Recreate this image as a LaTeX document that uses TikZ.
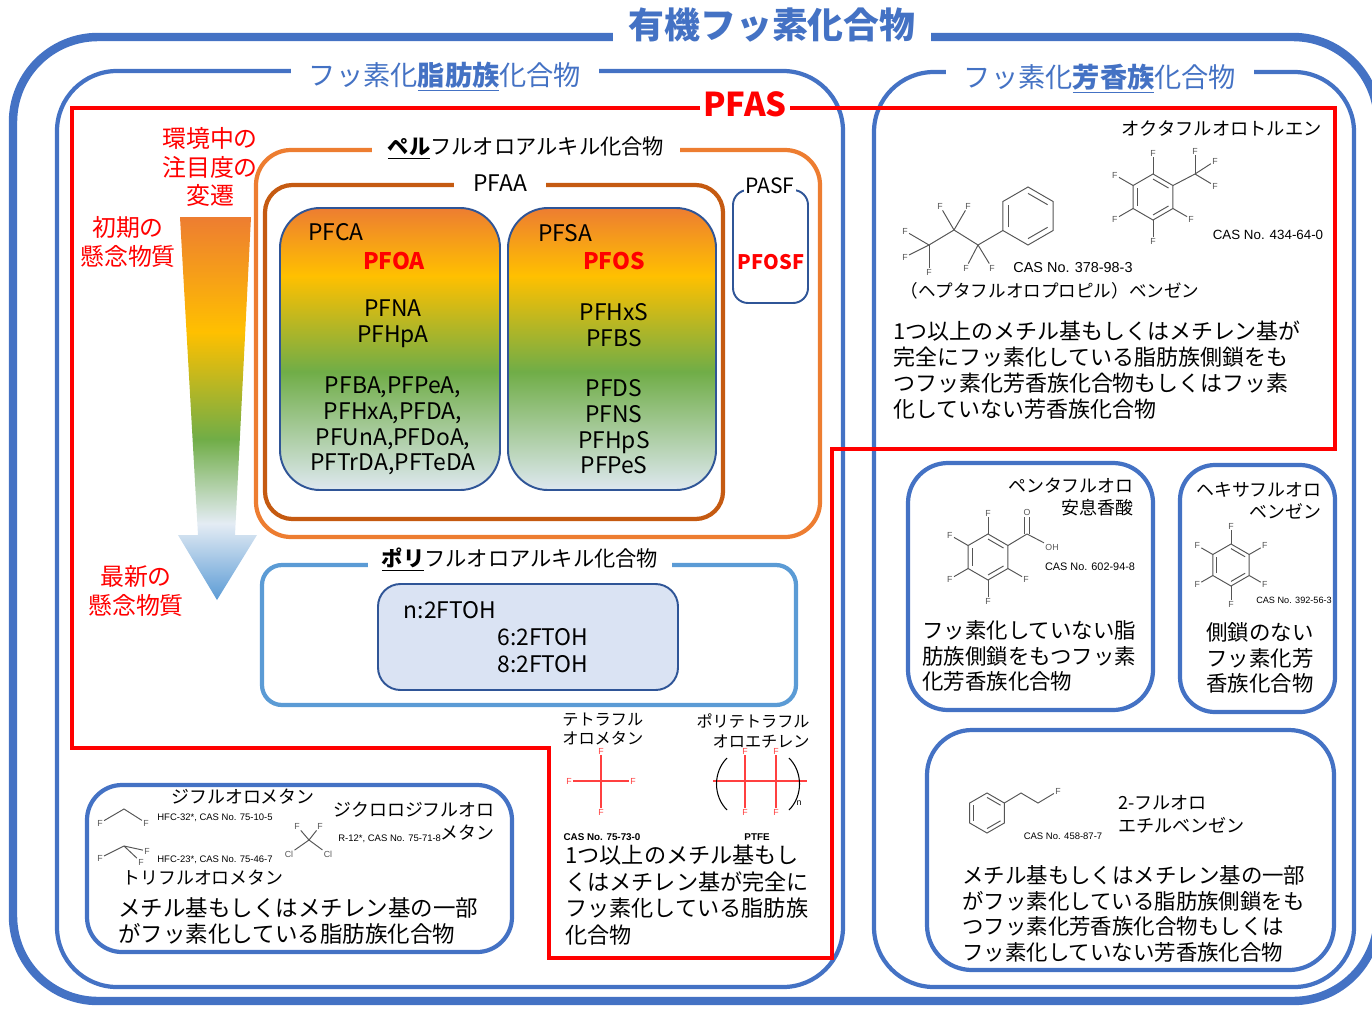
\documentclass[tikz,border=0pt]{standalone}
\usepackage{fontspec}
\setmainfont{Noto Sans CJK JP}
\newfontfamily\casfont{Liberation Sans}
\usetikzlibrary{positioning,fit,calc}

\definecolor{orgBlue}{HTML}{4472C4}
\definecolor{pfasRed}{HTML}{FF0000}
\definecolor{ptfeRed}{HTML}{FF4040}
\definecolor{perOrange}{HTML}{ED7D31}
\definecolor{pfaaBrown}{HTML}{C55A11}
\definecolor{polyBlue}{HTML}{5B9BD5}
\definecolor{deepBlue}{HTML}{2F5597}
\definecolor{ftohFill}{HTML}{DAE3F3}
\definecolor{gOrange}{HTML}{ED7D31}
\definecolor{gYellow}{HTML}{FFC000}
\definecolor{gGreen}{HTML}{70AD47}
\definecolor{gPale}{HTML}{E4ECF4}
\definecolor{gSky}{HTML}{5B9BD5}
\definecolor{gMist}{HTML}{DEE8F0}
\definecolor{molGray}{HTML}{555555}

% colour run of the concern arrow and of the acid boxes
\pgfdeclareverticalshading{concernarrow}{100bp}{color(0bp)=(gSky); color(25bp)=(gSky); color(35bp)=(gPale); color(46bp)=(gGreen); color(60bp)=(gYellow); color(75bp)=(gOrange); color(100bp)=(gOrange)}
\pgfdeclareverticalshading{concernbox}{100bp}{color(0bp)=(gMist); color(25bp)=(gMist); color(46bp)=(gGreen); color(63bp)=(gYellow); color(75bp)=(gOrange); color(100bp)=(gOrange)}

% benzene ring: name, centre, radius
\newcommand\benzene[3]{%
  \coordinate (#1) at (#2);
  \foreach \k/\a in {1/270,2/330,3/30,4/90,5/150,6/210}
    \coordinate (#1-\k) at ($(#1)+(\a:#3)$);
  \draw[mol] (#1-1) -- (#1-2) -- (#1-3) -- (#1-4) -- (#1-5) -- (#1-6) -- cycle;
  \foreach \k/\m in {1/2,3/4,5/6}
    \draw[mol] ($(#1)!0.78!(#1-\k)$) -- ($(#1)!0.78!(#1-\m)$);
}

\tikzset{
  outerbox/.style={draw=orgBlue, line width=4.8pt, rounded corners=1.7cm, inner sep=0pt},
  groupbox/.style={draw=orgBlue, line width=2.4pt, rounded corners=1.2cm, inner sep=0pt},
  subbox/.style={draw=orgBlue, line width=2.4pt, inner sep=0pt},
  gradbox/.style={draw=deepBlue, line width=1.1pt, rounded corners=0.8cm, inner sep=0pt, shade, shading=concernbox},
  pfasline/.style={draw=pfasRed, line width=2.5pt},
  boxtitle/.style={fill=white, inner ysep=3pt},
  para/.style={align=left, anchor=west, inner sep=0pt, font=\fontsize{12.5}{14.9}\selectfont},
  molname/.style={inner sep=0pt, font=\fontsize{10.2}{12.8}\selectfont},
  cas/.style={inner sep=0pt, font=\casfont\fontsize{6}{7}\selectfont},
  flab/.style={inner sep=0.6pt, text=molGray, font=\casfont\fontsize{5}{6}\selectfont},
  redF/.style={flab, text=ptfeRed},
  mol/.style={draw=molGray, line width=0.55pt},
  ptfe/.style={draw=ptfeRed, line width=0.8pt},
  redtext/.style={text=pfasRed, align=center, inner sep=0pt, font=\fontsize{13.6}{16.4}\selectfont},
  acid/.style={align=center, inner sep=0pt, font=\fontsize{13}{14.6}\selectfont},
  keyacid/.style={text=pfasRed, inner sep=0pt, font=\bfseries\fontsize{13}{14.6}\selectfont},
}

\begin{document}
\begin{tikzpicture}[x=0.02cm, y=-0.02cm]
\useasboundingbox (0,0) rectangle (1372,1011);

% frames
\node[outerbox, fit={(13,37) (1378,1001)}] (organo) {};
\node[groupbox, fit={(57,71) (843,987)}] (aliph) {};
\node[groupbox, fit={(874,72) (1354,987)}] (arom) {};

% PFAS boundary
\draw[pfasline] (72,108) -- (1335,108) -- (1335,449) -- (832,449) -- (832,958)
  -- (549,958) -- (549,748) -- (72,748) -- cycle;

% concern arrow
\shade[shading=concernarrow] (180,217) -- (251,217) -- (235,535) -- (257,535)
  -- (217,600) -- (178,535) -- (198,535) -- cycle;
\node[redtext] (shift) at (210,167) {環境中の\\注目度の\\変遷};
\node[redtext] (early) at (128,242) {初期の\\懸念物質};
\node[redtext] (latest) at (136,591) {最新の\\懸念物質};

% perfluoroalkyl group
\node[fit={(256,150) (820,537)}, draw=perOrange, line width=2.4pt, rounded corners=0.7cm, inner sep=0pt] (perfluoro) {};
\node[fit={(265,185) (723,519)}, draw=pfaaBrown, line width=2.4pt, rounded corners=0.55cm, inner sep=0pt] (pfaa) {};
\node[gradbox, fit={(280,208) (500,490)}] (pfca) {};
\node[gradbox, fit={(508,208) (716,490)}] (pfsa) {};
\node[fit={(733,190) (808,303)}, draw=deepBlue, line width=1.1pt, rounded corners=0.3cm, inner sep=0pt] (pasf) {};

\node[acid, anchor=west] (pfcaName) at (308,232) {PFCA};
\node[keyacid] (pfoa) at (394,261) {PFOA};
\node[acid] (pfcaMid) at (393,324) {PFNA\\PFHpA};
\node[acid] (pfcaLow) at (393,426) {PFBA,PFPeA,\\PFHxA,PFDA,\\PFUnA,PFDoA,\\PFTrDA,PFTeDA};

\node[acid, anchor=west] (pfsaName) at (538,233) {PFSA};
\node[keyacid] (pfos) at (614,261) {PFOS};
\node[acid] (pfsaMid) at (614,325) {PFHxS\\PFBS};
\node[acid] (pfsaLow) at (614,427) {PFDS\\PFNS\\PFHpS\\PFPeS};

\node[keyacid, font=\bfseries\fontsize{11.4}{13}\selectfont] (pfosf) at (771,262) {PFOSF};

% polyfluoroalkyl group
\node[fit={(262,565) (796,705)}, draw=polyBlue, line width=2.4pt, rounded corners=0.4cm, inner sep=0pt] (poly) {};
\node[fit={(378,584) (678,690)}, draw=deepBlue, fill=ftohFill, line width=1.1pt, rounded corners=0.45cm, inner sep=0pt] (ftoh) {};
\node[acid] (ftohN) at (450,610) {n:2FTOH};
\node[acid] (ftoh6) at (543,637) {6:2FTOH};
\node[acid] (ftoh8) at (543,664) {8:2FTOH};

% fully fluorinated aliphatics
\node[molname, align=left, anchor=west, font=\fontsize{9.2}{11}\selectfont] (tetraName) at (562,729) {テトラフル\\オロメタン};
\node[molname, align=right, anchor=east, font=\fontsize{9.2}{11.3}\selectfont] (ptfeName) at (810,731) {ポリテトラフル\\オロエチレン};
\node[redF] (tmF1) at (601,751) {F};
\node[redF] (tmF2) at (601,812) {F};
\node[redF] (tmF3) at (569,781) {F};
\node[redF] (tmF4) at (633,781) {F};
\draw[ptfe] (tmF1) -- (tmF2);
\draw[ptfe] (tmF3) -- (tmF4);
\node[redF] (ptF1) at (745,751) {F};
\node[redF] (ptF2) at (776,751) {F};
\node[redF] (ptF3) at (745,812) {F};
\node[redF] (ptF4) at (776,812) {F};
\coordinate (ptL) at (713,781);
\coordinate (ptR) at (807,781);
\draw[ptfe] (ptL) -- (ptR);
\draw[ptfe] (ptF1) -- (ptF3);
\draw[ptfe] (ptF2) -- (ptF4);
\draw[black, line width=0.6pt] (727,758) .. controls (713,772) and (713,796) .. (727,810);
\draw[black, line width=0.6pt] (789,758) .. controls (803,772) and (803,796) .. (789,810);
\node[flab, text=black] (ptN) at (799,803) {n};
\node[cas, font=\casfont\bfseries\fontsize{5.6}{6}\selectfont] (tmCas) at (602,837) {CAS No. 75-73-0};
\node[cas, font=\casfont\bfseries\fontsize{5.6}{6}\selectfont] (ptCas) at (757,837) {PTFE};
\node[para, font=\fontsize{12.6}{15.1}\selectfont] (fullText) at (565,895) {1つ以上のメチル基もし\\くはメチレン基が完全に\\フッ素化している脂肪族\\化合物};

% partly fluorinated aliphatics
\node[subbox, rounded corners=0.7cm, fit={(87,785) (512,952)}] (partial) {};
\node[molname] (dfName) at (243,797) {ジフルオロメタン};
\node[flab] (dfF1) at (100,823) {F};
\coordinate (dfC) at (124,809);
\node[flab] (dfF2) at (146,823) {F};
\draw[mol] (dfF1) -- (dfC) -- (dfF2);
\node[cas, anchor=west, font=\casfont\fontsize{5.4}{6}\selectfont] (dfCas) at (157,818) {HFC-32*, CAS No. 75-10-5};
\node[molname, align=right, anchor=east] (ccName) at (495,821) {ジクロロジフルオロ\\メタン};
\coordinate (ccC) at (309,840);
\node[flab] (ccF1) at (297,826) {F};
\node[flab] (ccF2) at (320,826) {F};
\node[flab] (ccCl1) at (289,854) {Cl};
\node[flab] (ccCl2) at (328,854) {Cl};
\foreach \n in {ccF1,ccF2,ccCl1,ccCl2} \draw[mol] (ccC) -- (\n);
\node[cas, anchor=west, font=\casfont\fontsize{5.4}{6}\selectfont] (ccCas) at (338,839) {R-12*, CAS No. 75-71-8};
\node[flab] (tfF1) at (100,858) {F};
\coordinate (tfC) at (124,846);
\node[flab] (tfF2) at (147,851) {F};
\node[flab] (tfF3) at (141,862) {F};
\draw[mol] (tfF1) -- (tfC) -- (tfF2);
\draw[mol] (tfC) -- (tfF3);
\node[cas, anchor=west, font=\casfont\fontsize{5.4}{6}\selectfont] (tfCas) at (157,860) {HFC-23*, CAS No. 75-46-7};
\node[molname] (tfName) at (203,878) {トリフルオロメタン};
\node[para, font=\fontsize{12.8}{15.3}\selectfont] (partialText) at (118,921) {メチル基もしくはメチレン基の一部\\がフッ素化している脂肪族化合物};

% aromatics inside PFAS
\node[molname, anchor=east, font=\fontsize{10.4}{12.8}\selectfont] (ocName) at (1322,128) {オクタフルオロトルエン};
\benzene{oc}{1153,197}{23}
\foreach \k/\a in {1/270,3/30,4/90,5/150,6/210} {
  \node[flab] (ocF\k) at ($(oc)+(\a:44)$) {F};
  \draw[mol] (oc-\k) -- (ocF\k);
}
\coordinate (ocC) at (1195,174);
\draw[mol] (oc-2) -- (ocC);
\node[flab] (ocF7) at (1195,151) {F};
\node[flab] (ocF8) at (1215,161) {F};
\node[flab] (ocF9) at (1215,186) {F};
\foreach \n in {ocF7,ocF8,ocF9} \draw[mol] (ocC) -- (\n);
\node[cas, font=\casfont\fontsize{7.6}{8}\selectfont] (ocCas) at (1268,235) {CAS No. 434-64-0};

\benzene{hp}{1028,216}{29}
\coordinate (hpC1) at (978,245);
\coordinate (hpC2) at (954,230);
\coordinate (hpC3) at (929,245);
\draw[mol] (hp-5) -- (hpC1) -- (hpC2) -- (hpC3);
\foreach \n/\c/\p in {1/hpC1/{966,268}, 2/hpC1/{992,268}, 3/hpC2/{940,206}, 4/hpC2/{968,206},
    5/hpC3/{905,231}, 6/hpC3/{905,257}, 7/hpC3/{929,272}} {
  \node[flab] (hpF\n) at (\p) {F};
  \draw[mol] (\c) -- (hpF\n);
}
\node[cas, font=\casfont\fontsize{8.2}{9}\selectfont] (hpCas) at (1073,268) {CAS No. 378-98-3};
\node[molname, font=\fontsize{10}{12}\selectfont] (hpName) at (1050,291) {（ヘプタフルオロプロピル）ベンゼン};
\node[para] (sideText) at (893,370) {1つ以上のメチル基もしくはメチレン基が\\完全にフッ素化している脂肪族側鎖をも\\つフッ素化芳香族化合物もしくはフッ素\\化していない芳香族化合物};

% pentafluorobenzoic acid
\node[subbox, rounded corners=0.8cm, fit={(908,463) (1153,710)}] (pentabox) {};
\node[molname, align=right, anchor=east, font=\fontsize{10.2}{13}\selectfont] (pbName) at (1134,497) {ペンタフルオロ\\安息香酸};
\benzene{pb}{988,557}{23}
\foreach \k/\a in {1/270,3/30,4/90,5/150,6/210} {
  \node[flab] (pbF\k) at ($(pb)+(\a:44)$) {F};
  \draw[mol] (pb-\k) -- (pbF\k);
}
\coordinate (pbC) at (1027,534);
\draw[mol] (pb-2) -- (pbC);
\node[flab] (pbO) at (1027,512) {O};
\node[flab] (pbOH) at (1052,547) {OH};
\draw[mol] (pbC) -- (pbOH);
\draw[mol] ([xshift=-1.2pt]pbC) -- ([xshift=-1.2pt]pbO.south);
\draw[mol] ([xshift=1.2pt]pbC) -- ([xshift=1.2pt]pbO.south);
\node[cas, font=\casfont\fontsize{6.2}{7}\selectfont] (pbCas) at (1090,567) {CAS No. 602-94-8};
\node[para, font=\fontsize{12.2}{14.7}\selectfont] (pbText) at (922,656) {フッ素化していない脂\\肪族側鎖をもつフッ素\\化芳香族化合物};

% hexafluorobenzene
\node[subbox, rounded corners=0.7cm, fit={(1180,465) (1335,712)}] (hexabox) {};
\node[molname, align=right, anchor=east, font=\fontsize{10.2}{12.5}\selectfont] (hxName) at (1322,501) {ヘキサフルオロ\\ベンゼン};
\benzene{hx}{1231,565}{21}
\foreach \k/\a in {1/270,2/330,3/30,4/90,5/150,6/210} {
  \node[flab] (hxF\k) at ($(hx)+(\a:39)$) {F};
  \draw[mol] (hx-\k) -- (hxF\k);
}
\node[cas, font=\casfont\fontsize{5.2}{6}\selectfont] (hxCas) at (1294,600) {CAS No. 392-56-3};
\node[acid, font=\fontsize{12.2}{14.7}\selectfont] (hxText) at (1260,658) {側鎖のない\\フッ素化芳\\香族化合物};

% 2-fluoroethylbenzene
\node[subbox, rounded corners=0.9cm, fit={(927,730) (1334,970)}] (fluoroethyl) {};
\benzene{fe}{987,813}{20}
\coordinate (feC1) at (1021,793);
\coordinate (feC2) at (1038,803);
\node[flab] (feF) at (1058,791) {F};
\draw[mol] (fe-2) -- (feC1) -- (feC2) -- (feF);
\node[cas, font=\casfont\fontsize{5.4}{6}\selectfont] (feCas) at (1063,836) {CAS No. 458-87-7};
\node[molname, align=left, anchor=west, font=\fontsize{10.3}{13}\selectfont] (feName) at (1118,814) {2-フルオロ\\エチルベンゼン};
\node[para, font=\fontsize{12.2}{14.6}\selectfont] (feText) at (962,914) {メチル基もしくはメチレン基の一部\\がフッ素化している脂肪族側鎖をも\\つフッ素化芳香族化合物もしくは\\フッ素化していない芳香族化合物};

% titles
\node[boxtitle, text=orgBlue, font=\bfseries\fontsize{20.4}{24}\selectfont, inner xsep=9pt] (organoTitle) at (772,25) {有機フッ素化合物};
\node[boxtitle, text=orgBlue, font=\fontsize{15.5}{18}\selectfont, inner xsep=10pt] (aliphTitle) at (445,77) {フッ素化\underline{\textbf{脂肪族}}化合物};
\node[boxtitle, text=orgBlue, font=\fontsize{15.5}{18}\selectfont, inner xsep=10pt] (aromTitle) at (1100,79) {フッ素化\underline{\textbf{芳香族}}化合物};
\node[boxtitle, text=pfasRed, font=\bfseries\fontsize{18.7}{22}\selectfont, inner xsep=2pt] (pfasTitle) at (745,104) {PFAS};
\node[boxtitle, font=\fontsize{12.1}{14}\selectfont, inner xsep=9pt] (perTitle) at (526,148) {\underline{\textbf{ペル}}フルオロアルキル化合物};
\node[boxtitle, font=\fontsize{13}{15}\selectfont, inner xsep=11pt] (pfaaTitle) at (500,183) {PFAA};
\node[boxtitle, font=\fontsize{12}{14}\selectfont, inner xsep=1pt] (pasfTitle) at (770,186) {PASF};
\node[boxtitle, font=\fontsize{12.1}{14}\selectfont, inner xsep=8pt] (polyTitle) at (520,560) {\underline{\textbf{ポリ}}フルオロアルキル化合物};
\end{tikzpicture}
\end{document}
